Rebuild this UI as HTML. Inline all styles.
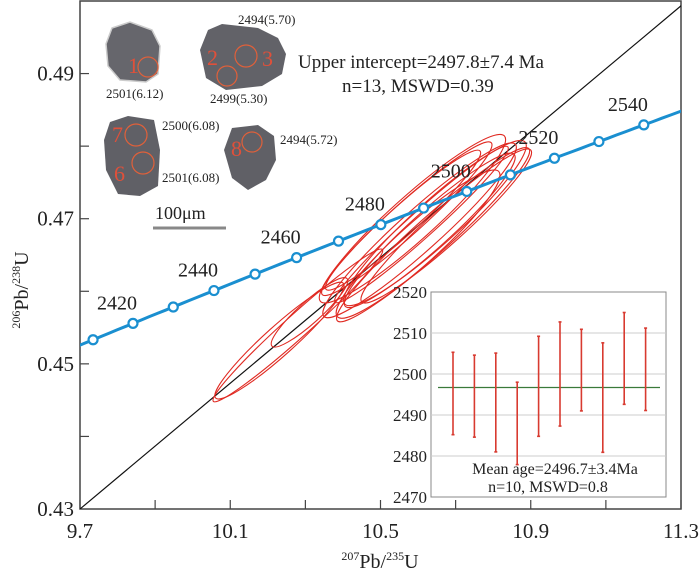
<!DOCTYPE html>
<html><head><meta charset="utf-8"><style>
body{margin:0;background:#fff}
svg{display:block;font-family:"Liberation Serif",serif}
</style></head><body>
<svg id="chart" width="700" height="576" viewBox="0 0 700 576" xmlns="http://www.w3.org/2000/svg">
<defs><clipPath id="plotclip"><rect x="80" y="1" width="601" height="508"/></clipPath></defs>
<rect x="80" y="1" width="601" height="508" fill="#fff" stroke="#444" stroke-width="1.5"/>
<g id="axes"></g>
<g id="grains">
  <path d="M112,28 L130,22 L152,30 L160,46 L158,74 L146,82 L120,80 L108,66 L106,44 Z" fill="#66666c" stroke="#ccc" stroke-width="1.5"/>
  <circle cx="148" cy="67" r="10" fill="none" stroke="#e0603a" stroke-width="1.2"/>
  <text x="128" y="73" fill="#e0503a" font-size="22">1</text>
  <path d="M208,30 L222,24 L258,28 L278,38 L286,54 L282,74 L262,86 L226,90 L206,78 L200,50 Z" fill="#626268"/>
  <circle cx="246" cy="56" r="11" fill="none" stroke="#e0603a" stroke-width="1.2"/>
  <circle cx="227" cy="76" r="10" fill="none" stroke="#e0603a" stroke-width="1.2"/>
  <text x="207" y="65" fill="#e0503a" font-size="22">2</text>
  <text x="262" y="66" fill="#e0503a" font-size="22">3</text>
  <path d="M110,122 L128,116 L154,120 L160,150 L158,186 L140,196 L118,194 L106,170 L104,140 Z" fill="#606066"/>
  <circle cx="136" cy="135" r="11" fill="none" stroke="#e0603a" stroke-width="1.2"/>
  <circle cx="143" cy="163" r="11" fill="none" stroke="#e0603a" stroke-width="1.2"/>
  <text x="112" y="142" fill="#e0503a" font-size="22">7</text>
  <text x="114" y="181" fill="#e0503a" font-size="22">6</text>
  <path d="M232,128 L258,125 L274,136 L276,160 L266,180 L248,190 L232,178 L224,150 Z" fill="#606066"/>
  <circle cx="252" cy="142" r="10" fill="none" stroke="#e0603a" stroke-width="1.2"/>
  <text x="231" y="156" fill="#e0503a" font-size="22">8</text>
  <g font-size="13" fill="#222">
    <text x="106" y="98">2501(6.12)</text>
    <text x="238" y="24">2494(5.70)</text>
    <text x="210" y="103">2499(5.30)</text>
    <text x="162" y="130">2500(6.08)</text>
    <text x="162" y="182">2501(6.08)</text>
    <text x="280" y="144">2494(5.72)</text>
  </g>
  <text x="155" y="219" font-size="18" fill="#222">100μm</text>
  <line x1="153" y1="228" x2="226" y2="228" stroke="#888" stroke-width="3"/>
</g>
<g id="plot" clip-path="url(#plotclip)"></g>
<text x="298" y="68" font-size="19" fill="#222">Upper intercept=2497.8±7.4 Ma</text>
<text x="342" y="92" font-size="19" fill="#222">n=13, MSWD=0.39</text>
<g id="inset"></g>
<text x="380" y="568" text-anchor="middle" font-size="20" fill="#222"><tspan font-size="12" dy="-8">207</tspan><tspan dy="8">Pb/</tspan><tspan font-size="12" dy="-8">235</tspan><tspan dy="8">U</tspan></text>
<text transform="translate(28,290) rotate(-90)" text-anchor="middle" font-size="20" fill="#222"><tspan font-size="12" dy="-8">206</tspan><tspan dy="8">Pb/</tspan><tspan font-size="12" dy="-8">238</tspan><tspan dy="8">U</tspan></text>
</svg>
<script>
const xTicks=[9.7,10.1,10.5,10.9,11.3];
const yTicks=[0.43,0.45,0.47,0.49];
const concordiaAges=[2410,2420,2430,2440,2450,2460,2470,2480,2490,2500,2510,2520,2530,2540];
const concordiaLabels=[2420,2440,2460,2480,2500,2520,2540];
const ellX=[10.280,10.231,10.311,10.604,10.585,10.640,10.570,10.645,10.560,10.631,10.609,10.675,10.600];
const ellY=[0.4553,0.4532,0.4571,0.4684,0.4700,0.4678,0.4700,0.4694,0.4698,0.4684,0.4692,0.4690,0.4665];
const ellHalf=[0.225,0.170,0.100,0.255,0.245,0.255,0.225,0.240,0.205,0.225,0.230,0.225,0.215];
const ellMinor=[0.0016,0.0020,0.0015,0.0028,0.0030,0.0025,0.0022,0.0030,0.0020,0.0026,0.0018,0.0024,0.0028];
const discordia=[[9.7,0.43],[11.35,0.5015]];
const insetTicks=[2470,2480,2490,2500,2510,2520];
const ageTop=[2505.3,2504.6,2505.1,2498.0,2509.2,2512.7,2510.9,2507.6,2515.0,2511.2];
const ageBot=[2485.2,2484.6,2481.0,2477.9,2484.8,2487.3,2491.0,2480.9,2492.6,2491.1];
const meanAge=[2496.7];

const NS="http://www.w3.org/2000/svg";
const X=v=>80+(v-9.7)/1.6*601;
const Y=v=>509-(v-0.43)/0.07*508;
function mk(tag,attrs,parent){const e=document.createElementNS(NS,tag);for(const k in attrs)e.setAttribute(k,attrs[k]);parent.appendChild(e);return e;}
const axes=document.getElementById('axes'),plot=document.getElementById('plot'),inset=document.getElementById('inset');

for(let v=9.7;v<=11.31;v+=0.2){const t=mk('line',{x1:X(v),x2:X(v),y1:509,y2:500,stroke:'#444','stroke-width':1.2},axes);

}
for(let v=0.44;v<=0.4901;v+=0.01){const t=mk('line',{x1:80,x2:89,y1:Y(v),y2:Y(v),stroke:'#444','stroke-width':1.2},axes);

}
xTicks.forEach(v=>{const t=mk('text',{x:X(v),y:538,'text-anchor':'middle','font-size':21,fill:'#222'},axes);t.textContent=v.toFixed(1);

});
yTicks.forEach(v=>{const t=mk('text',{x:74,y:Y(v)+7,'text-anchor':'end','font-size':21,fill:'#222'},axes);t.textContent=v.toFixed(2);

});

const l235=9.8485e-10,l238=1.55125e-10;
const r7=t=>Math.exp(l235*t*1e6)-1, r6=t=>Math.exp(l238*t*1e6)-1;

const dl=mk('line',{x1:X(discordia[0][0]),y1:Y(discordia[0][1]),x2:X(discordia[1][0]),y2:Y(discordia[1][1]),stroke:'#111','stroke-width':1.2},plot);



const ang=Math.atan2(Y(discordia[1][1])-Y(discordia[0][1]),X(discordia[1][0])-X(discordia[0][0]))*180/Math.PI-2;
ellX.forEach((cx,i)=>{
  const px=X(cx),py=Y(ellY[i]);const rx=ellHalf[i]/1.6*601/Math.cos(ang*Math.PI/180);
  const ry=ellMinor[i]/0.07*508;
  const e=mk('ellipse',{cx:px,cy:py,rx:Math.abs(rx),ry:ry,transform:`rotate(${ang} ${px} ${py})`,fill:'none',stroke:'#e02a22','stroke-width':1.1},plot);
  
  
});

let d='';for(let t=2390;t<=2570;t+=2){d+=(d?'L':'M')+X(r7(t)).toFixed(1)+','+Y(r6(t)).toFixed(1);}
const cp=mk('path',{d:d,fill:'none',stroke:'#1a8fd0','stroke-width':3},plot);


concordiaAges.forEach(t=>{const c=mk('circle',{cx:X(r7(t)),cy:Y(r6(t)),r:4.5,fill:'#fff',stroke:'#1a8fd0','stroke-width':2.2},plot);

});
concordiaLabels.forEach(t=>{const l=mk('text',{x:X(r7(t))-36,y:Y(r6(t))-14,'font-size':20,fill:'#222'},plot);l.textContent=t;

});

const IL=431,IR=666,IT=292,IB=497;
const IY=v=>IB-(v-2470)/50*(IB-IT);
const bg=mk('rect',{x:IL,y:IT,width:IR-IL,height:IB-IT,fill:'#fff',stroke:'#888','stroke-width':1},inset);


insetTicks.forEach(v=>{
  if(v>2470&&v<2520){const g=mk('line',{x1:IL,x2:IR,y1:IY(v),y2:IY(v),stroke:'#ccc','stroke-width':1},inset);
  
  }
  const t=mk('text',{x:IL-4,y:IY(v)+6,'text-anchor':'end','font-size':17,fill:'#222'},inset);t.textContent=v;
  
  
});
const ml=mk('line',{x1:438,x2:660,y1:IY(meanAge[0]),y2:IY(meanAge[0]),stroke:'#3a7a3a','stroke-width':1.3},inset);


ageTop.forEach((v,i)=>{const x=453+i*21.4;
  const b=mk('line',{x1:x,x2:x,y1:IY(v),y2:IY(ageBot[i]),stroke:'#d83a30','stroke-width':1.6},inset);
  
  
  [v,ageBot[i]].forEach(w=>mk('line',{x1:x-1.5,x2:x+1.5,y1:IY(w),y2:IY(w),stroke:'#d83a30','stroke-width':1.6},inset));
});
const t1=mk('text',{x:555,y:474,'text-anchor':'middle','font-size':16,fill:'#222'},inset);t1.textContent='Mean age=2496.7±3.4Ma';


const t2=mk('text',{x:548,y:492,'text-anchor':'middle','font-size':16,fill:'#222'},inset);t2.textContent='n=10, MSWD=0.8';


</script>
</body></html>
